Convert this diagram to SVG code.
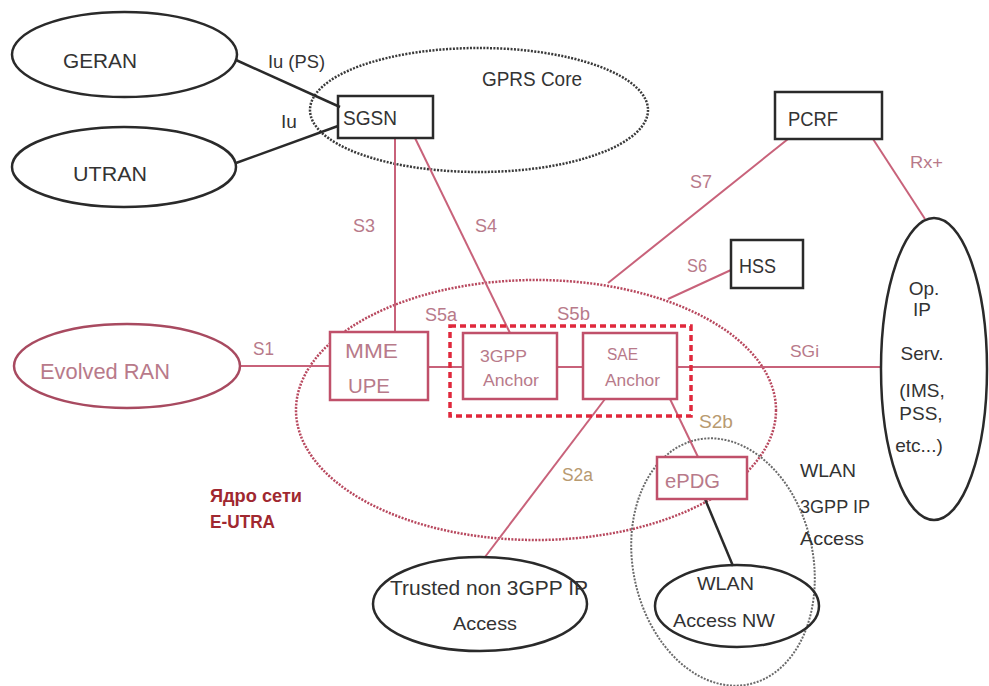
<svg xmlns="http://www.w3.org/2000/svg" width="989" height="686" viewBox="0 0 989 686">
  <style>
    text { font-family: "Liberation Sans", "Noto Sans", Arial, sans-serif; }
    .blk { fill: none; stroke: #2a2a2a; stroke-width: 2.5; }
    .red { fill: #ffffff; stroke: #c0506a; stroke-width: 2.5; }
    .dotK { fill: none; stroke: #3a3a3a; stroke-width: 2.5; stroke-dasharray: 2 1.4; }
    .dotR { fill: none; stroke: #b8485e; stroke-width: 2.5; stroke-dasharray: 2 1.4; }
    .dotG { fill: none; stroke: #6a6a6a; stroke-width: 2; stroke-dasharray: 2 1.4; }
    .ln { stroke: #c8627a; stroke-width: 2; fill: none; }
    .lnK { stroke: #2a2a2a; stroke-width: 2.5; fill: none; }
    .tK { fill: #333333; }
    .tP { fill: #b87a8a; }
    .tT { fill: #b89a70; }
    .tR { fill: #a02830; font-weight: bold; }
  </style>

  <!-- region outlines -->
  <g id="gprs-core">
    <ellipse class="dotK" cx="479" cy="110" rx="169" ry="62"/>
    <text class="tK" x="482" y="86" font-size="20" textLength="100" lengthAdjust="spacingAndGlyphs">GPRS Core</text>
  </g>
  <g id="eutra-core">
    <ellipse class="dotR" cx="536" cy="410" rx="240" ry="130"/>
    <text class="tR" x="210" y="502" font-size="18" textLength="92" lengthAdjust="spacingAndGlyphs">Ядро сети</text>
    <text class="tR" x="210" y="528" font-size="18" textLength="65" lengthAdjust="spacingAndGlyphs">E-UTRA</text>
  </g>
  <g id="wlan-access">
    <ellipse class="dotG" cx="723" cy="562" rx="90" ry="125" transform="rotate(-12 723 562)"/>
    <text class="tK" x="800" y="477" font-size="19" textLength="56" lengthAdjust="spacingAndGlyphs">WLAN</text>
    <text class="tK" x="800" y="513" font-size="19" textLength="70" lengthAdjust="spacingAndGlyphs">3GPP IP</text>
    <text class="tK" x="800" y="545" font-size="19" textLength="64" lengthAdjust="spacingAndGlyphs">Access</text>
  </g>

  <!-- connectors -->
  <g id="connectors">
    <line class="lnK" x1="236" y1="60" x2="340" y2="107"/>
    <line class="lnK" x1="236" y1="163" x2="338" y2="126"/>
    <line class="ln" x1="395" y1="138" x2="395" y2="332"/>
    <line class="ln" x1="415" y1="138" x2="510" y2="333"/>
    <line class="ln" x1="788" y1="139" x2="608" y2="283"/>
    <line class="ln" x1="731" y1="270" x2="668" y2="299"/>
    <line class="ln" x1="873" y1="139" x2="925" y2="219"/>
    <line class="ln" x1="240" y1="366" x2="330" y2="366"/>
    <line class="ln" x1="428" y1="367" x2="463" y2="367"/>
    <line class="ln" x1="557" y1="367" x2="583" y2="367"/>
    <line class="ln" x1="677" y1="367" x2="881" y2="367"/>
    <line class="ln" x1="605" y1="399" x2="485" y2="557"/>
    <line class="ln" x1="670" y1="399" x2="698" y2="457" stroke="#a85a6a"/>
    <line class="lnK" x1="705" y1="499" x2="733" y2="566"/>

    <text class="tK" x="268" y="68" font-size="18" textLength="57" lengthAdjust="spacingAndGlyphs">Iu (PS)</text>
    <text class="tK" x="281" y="128" font-size="19">Iu</text>
    <text class="tP" x="353" y="232" font-size="18" textLength="22" lengthAdjust="spacingAndGlyphs">S3</text>
    <text class="tP" x="475" y="232" font-size="18" textLength="22" lengthAdjust="spacingAndGlyphs">S4</text>
    <text class="tP" x="690" y="188" font-size="18" textLength="22" lengthAdjust="spacingAndGlyphs">S7</text>
    <text class="tP" x="687" y="272" font-size="18" textLength="20" lengthAdjust="spacingAndGlyphs">S6</text>
    <text class="tP" x="910" y="168" font-size="17" textLength="33" lengthAdjust="spacingAndGlyphs">Rx+</text>
    <text class="tP" x="253" y="355" font-size="18" textLength="21" lengthAdjust="spacingAndGlyphs">S1</text>
    <text class="tP" x="425" y="321" font-size="18" textLength="32" lengthAdjust="spacingAndGlyphs">S5a</text>
    <text class="tP" x="557" y="320" font-size="18" textLength="33" lengthAdjust="spacingAndGlyphs">S5b</text>
    <text class="tP" x="790" y="357" font-size="17" textLength="29" lengthAdjust="spacingAndGlyphs">SGi</text>
    <text class="tT" x="699" y="428" font-size="18" textLength="34" lengthAdjust="spacingAndGlyphs">S2b</text>
    <text class="tT" x="562" y="481" font-size="18" textLength="31" lengthAdjust="spacingAndGlyphs">S2a</text>
  </g>

  <!-- nodes -->
  <g id="geran">
    <ellipse class="blk" cx="124.5" cy="54.5" rx="112.5" ry="42.5"/>
    <text class="tK" x="63" y="68" font-size="21" textLength="74" lengthAdjust="spacingAndGlyphs">GERAN</text>
  </g>
  <g id="utran">
    <ellipse class="blk" cx="124" cy="167" rx="112" ry="40"/>
    <text class="tK" x="73" y="181" font-size="21" textLength="74" lengthAdjust="spacingAndGlyphs">UTRAN</text>
  </g>
  <g id="sgsn">
    <rect class="blk" x="338" y="96" width="95" height="42" fill="#ffffff"/>
    <text class="tK" x="343" y="125" font-size="21" textLength="54" lengthAdjust="spacingAndGlyphs">SGSN</text>
  </g>
  <g id="pcrf">
    <rect class="blk" x="775" y="92" width="107" height="47"/>
    <text class="tK" x="788" y="126" font-size="21" textLength="50" lengthAdjust="spacingAndGlyphs">PCRF</text>
  </g>
  <g id="hss">
    <rect class="blk" x="731" y="240" width="72" height="48"/>
    <text class="tK" x="739" y="273" font-size="21" textLength="37" lengthAdjust="spacingAndGlyphs">HSS</text>
  </g>
  <g id="op-ip-serv">
    <ellipse class="blk" cx="934" cy="369" rx="53" ry="151"/>
    <g class="tK" font-size="19" text-anchor="middle">
      <text x="924" y="295">Op.</text>
      <text x="922" y="316">IP</text>
      <text x="922" y="360">Serv.</text>
      <text x="922" y="397">(IMS,</text>
      <text x="921" y="420">PSS,</text>
      <text x="919" y="452">etc...)</text>
    </g>
  </g>
  <g id="evolved-ran">
    <ellipse fill="none" stroke="#a84a60" stroke-width="2.5" cx="127" cy="366" rx="113" ry="42"/>
    <text class="tP" x="40" y="379" font-size="22" textLength="130" lengthAdjust="spacingAndGlyphs">Evolved RAN</text>
  </g>
  <g id="mme-upe">
    <rect class="red" x="330" y="332" width="98" height="68"/>
    <text class="tP" x="345" y="358" font-size="20" textLength="53" lengthAdjust="spacingAndGlyphs">MME</text>
    <text class="tP" x="348" y="393" font-size="20" textLength="42" lengthAdjust="spacingAndGlyphs">UPE</text>
  </g>
  <g id="anchors">
    <rect x="450" y="326" width="241" height="90" fill="none" stroke="#e0283c" stroke-width="3.5" stroke-dasharray="6 4"/>
    <g id="anchor-3gpp">
      <rect class="red" x="463" y="333" width="94" height="66"/>
      <text class="tP" x="480" y="362" font-size="16" textLength="47" lengthAdjust="spacingAndGlyphs">3GPP</text>
      <text class="tP" x="483" y="386" font-size="16" textLength="56" lengthAdjust="spacingAndGlyphs">Anchor</text>
    </g>
    <g id="anchor-sae">
      <rect class="red" x="583" y="333" width="94" height="66"/>
      <text class="tP" x="607" y="360" font-size="16" textLength="31" lengthAdjust="spacingAndGlyphs">SAE</text>
      <text class="tP" x="605" y="386" font-size="16" textLength="55" lengthAdjust="spacingAndGlyphs">Anchor</text>
    </g>
  </g>
  <g id="epdg">
    <rect class="red" x="657" y="457" width="90" height="42" fill="none"/>
    <text class="tP" x="665" y="488" font-size="20" textLength="55" lengthAdjust="spacingAndGlyphs">ePDG</text>
  </g>
  <g id="trusted-non-3gpp">
    <ellipse class="blk" cx="480" cy="604" rx="107" ry="47" stroke-width="2"/>
    <text class="tK" x="390" y="595" font-size="21" textLength="198" lengthAdjust="spacingAndGlyphs">Trusted non 3GPP IP</text>
    <text class="tK" x="453" y="630" font-size="19" textLength="64" lengthAdjust="spacingAndGlyphs">Access</text>
  </g>
  <g id="wlan-access-nw">
    <ellipse class="blk" cx="737" cy="606" rx="82" ry="41" stroke-width="3"/>
    <text class="tK" x="697" y="590" font-size="19" textLength="57" lengthAdjust="spacingAndGlyphs">WLAN</text>
    <text class="tK" x="673" y="627" font-size="19" textLength="102" lengthAdjust="spacingAndGlyphs">Access NW</text>
  </g>
</svg>
